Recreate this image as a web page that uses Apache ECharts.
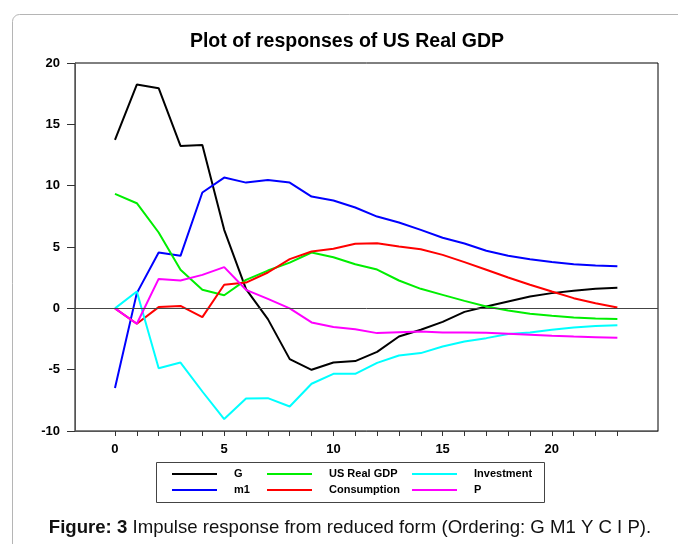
<!DOCTYPE html>
<html>
<head>
<meta charset="utf-8">
<script src="https://cdn.jsdelivr.net/npm/echarts@6/dist/echarts.min.js"></script>
<style>
html,body{margin:0;padding:0;background:#fff;}
#c{width:678px;height:544px;}
</style>
</head>
<body>
<div id="c"></div>
<script>
var periods = [0,1,2,3,4,5,6,7,8,9,10,11,12,13,14,15,16,17,18,19,20,21,22,23];
var xLabelValues = [0,5,10,15,20];
var G = [13.73,18.24,17.95,13.24,13.32,6.4,1.56,-0.88,-4.14,-5.01,-4.41,-4.3,-3.55,-2.3,-1.75,-1.1,-0.29,0.15,0.56,0.96,1.24,1.43,1.59,1.67];
var m1 = [-6.5,1.24,4.55,4.28,9.44,10.66,10.25,10.47,10.25,9.11,8.79,8.22,7.48,7.0,6.4,5.75,5.28,4.69,4.28,4.01,3.77,3.6,3.49,3.44];
var gdp = [9.33,8.57,6.18,3.14,1.51,1.07,2.32,3.08,3.73,4.55,4.17,3.6,3.16,2.27,1.59,1.1,0.61,0.15,-0.18,-0.45,-0.61,-0.75,-0.83,-0.86];
var consumption = [0,-1.26,0.1,0.2,-0.72,1.92,2.1,2.92,4.01,4.63,4.85,5.26,5.31,5.04,4.82,4.36,3.77,3.14,2.51,1.92,1.37,0.83,0.42,0.07];
var investment = [0,1.37,-4.88,-4.42,-6.78,-9.03,-7.35,-7.32,-8.0,-6.15,-5.34,-5.34,-4.45,-3.84,-3.65,-3.11,-2.7,-2.43,-2.1,-1.97,-1.75,-1.56,-1.45,-1.37];
var P = [0,-1.26,2.4,2.27,2.73,3.36,1.51,0.77,0.0,-1.15,-1.53,-1.7,-2.02,-1.94,-1.89,-1.97,-1.97,-2.0,-2.08,-2.16,-2.24,-2.3,-2.35,-2.4];

var names = ['G','m1','US Real GDP','Consumption','Investment','P'];
var values = [G, m1, gdp, consumption, investment, P];
var colors = ['#000000','#0000ff','#00ee00','#ff0000','#00ffff','#ff00ff'];

function pairs(v){ return periods.map(function(t,i){ return [t, v[i]]; }); }

var series = names.map(function(n, i){
  var s = {
    name: n, type: 'line', data: pairs(values[i]),
    symbol: 'none', showSymbol: false,
    lineStyle: {color: colors[i], width: 2},
    itemStyle: {color: colors[i]},
    z: 3, animation: false
  };
  if (i === 0) {
    s.markLine = {
      silent: true, symbol: 'none', label: {show: false},
      lineStyle: {color: '#444', width: 1, type: 'solid'},
      data: [{yAxis: 0}], animation: false
    };
  }
  return s;
});

// legend layout: [name, left, rowTop]
var legendPos = [
  ['G', 172, 467], ['US Real GDP', 267, 467], ['Investment', 412, 467],
  ['m1', 172, 483], ['Consumption', 267, 483], ['P', 412, 483]
];
var legends = legendPos.map(function(p){
  return {
    data: [p[0]], left: p[1], top: p[2], padding: 0,
    itemWidth: 45, itemHeight: 14, icon: 'path://M0,6L45,6L45,8L0,8Z',
    textStyle: {fontFamily: 'Liberation Sans', fontWeight: 'bold', fontSize: 11, color: '#000', padding: [0,0,0,12], lineHeight: 14},
    selectedMode: false
  };
});

var chart = echarts.init(document.getElementById('c'), null, {renderer: 'canvas'});
chart.setOption({
  animation: false,
  backgroundColor: '#fff',
  grid: {left: 75, right: 20, top: 63, bottom: 113, show: true, borderColor: '#000', borderWidth: 1, containLabel: false},
  legend: legends,
  xAxis: {
    type: 'value', min: -1.83, max: 24.86,
    axisLine: {show: true, onZero: false, lineStyle: {color: '#555', width: 1}},
    axisTick: {show: true, length: 5, customValues: periods, lineStyle: {color: '#333'}},
    axisLabel: {customValues: xLabelValues, color: '#000', fontFamily: 'Liberation Sans', fontWeight: 'bold', fontSize: 13, margin: 12},
    splitLine: {show: false}
  },
  yAxis: {
    type: 'value', min: -10, max: 20, interval: 5,
    axisLine: {show: true, onZero: false, lineStyle: {color: '#555', width: 1}},
    axisTick: {show: true, length: 8, lineStyle: {color: '#333'}},
    axisLabel: {color: '#000', fontFamily: 'Liberation Sans', fontWeight: 'bold', fontSize: 13, margin: 15},
    splitLine: {show: false}
  },
  series: series,
  graphic: [
    {type: 'rect', silent: true, shape: {x: 12.5, y: 14.5, width: 720, height: 600, r: 7}, style: {fill: 'none', stroke: '#b5b5b5', lineWidth: 1}},
    {type: 'text', silent: true, style: {text: 'Plot of responses of US Real GDP', x: 347, y: 42, align: 'center', verticalAlign: 'middle', font: 'bold 19.5px "Liberation Sans", Arial, sans-serif', fill: '#000'}},
    {type: 'rect', silent: true, shape: {x: 156.5, y: 462.5, width: 388, height: 40}, style: {fill: 'none', stroke: '#444', lineWidth: 1}},
    {type: 'text', silent: true, style: {
      text: '{b|Figure: 3} Impulse response from reduced form (Ordering: G M1 Y C I P).',
      x: 350, y: 528, align: 'center', verticalAlign: 'middle',
      font: '18.6px "Liberation Sans", Arial, sans-serif', fill: '#111',
      rich: {b: {fontWeight: 'bold', fontSize: 18.6, fontFamily: 'Liberation Sans', fill: '#111'}}
    }}
  ]
});
</script>
</body>
</html>
